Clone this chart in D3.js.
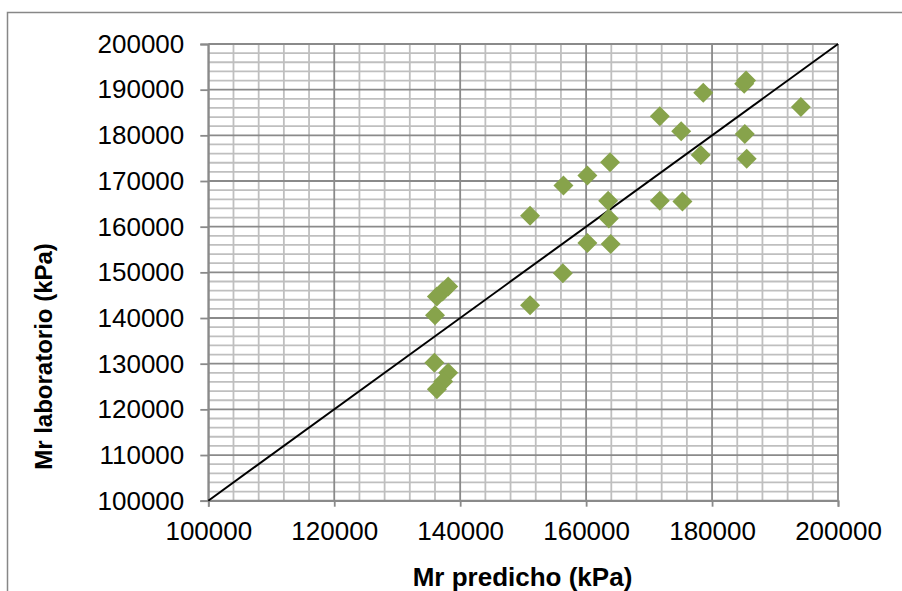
<!DOCTYPE html>
<html>
<head>
<meta charset="utf-8">
<script src="https://cdn.jsdelivr.net/npm/d3@7"></script>
<style>
  html, body { margin: 0; padding: 0; background: #fff; }
  svg { display: block; font-family: "Liberation Sans", Arial, sans-serif; }
</style>
</head>
<body>
<svg id="chart" width="902" height="591"></svg>
<script>
// Predicted vs. laboratory resilient modulus (kPa)
const mrPredicho = [
  194100, 185100, 185400, 178600, 171700, 175100, 185200, 178200, 185500,
  163800, 160200, 156400, 171700, 175300, 163500, 163600, 151100, 160200,
  163900, 156300, 151100, 136000, 138100, 137200, 136300, 135900, 138100,
  137300, 136300
];
const mrLaboratorio = [
  186200, 191300, 192000, 189300, 184200, 180900, 180300, 175700, 174900,
  174100, 171200, 169000, 165700, 165500, 165700, 161800, 162400, 156400,
  156200, 149800, 142800, 140600, 146900, 145800, 144700, 130200, 128000,
  126100, 124400
];
// Line of equality
const igualdadX = [100000, 200000];
const igualdadY = [100000, 200000];

const xTicks = [100000, 120000, 140000, 160000, 180000, 200000];
const yTicks = [100000, 110000, 120000, 130000, 140000, 150000, 160000, 170000, 180000, 190000, 200000];

const svg = d3.select("#chart");
const plotLeft = 208.3, plotRight = 838, plotTop = 44, plotBottom = 500.7;

const x = d3.scaleLinear().domain([100000, 200000]).range([plotLeft, plotRight]);
const y = d3.scaleLinear().domain([100000, 200000]).range([plotBottom, plotTop]);

// Outer chart frame
svg.append("rect")
  .attr("x", 7.5).attr("y", 12.5)
  .attr("width", 1000).attr("height", 1000)
  .attr("fill", "none").attr("stroke", "#878787").attr("stroke-width", 1.5);

const grid = svg.append("g");
// Minor grid lines
const xMinor = d3.range(100000, 200001, 4000).filter(v => v % 20000 !== 0);
const yMinor = d3.range(100000, 200001, 2000).filter(v => v % 10000 !== 0);
grid.selectAll(".xm").data(xMinor).join("line")
  .attr("x1", d => x(d)).attr("x2", d => x(d))
  .attr("y1", plotTop).attr("y2", plotBottom)
  .attr("stroke", "#bfbfbf").attr("stroke-width", 1.8);
grid.selectAll(".ym").data(yMinor).join("line")
  .attr("x1", plotLeft).attr("x2", plotRight)
  .attr("y1", d => y(d)).attr("y2", d => y(d))
  .attr("stroke", "#bfbfbf").attr("stroke-width", 1.8);
// Major grid lines
grid.selectAll(".xM").data(xTicks).join("line")
  .attr("x1", d => x(d)).attr("x2", d => x(d))
  .attr("y1", plotTop).attr("y2", plotBottom)
  .attr("stroke", "#8a8a8a").attr("stroke-width", 1.8);
grid.selectAll(".yM").data(yTicks).join("line")
  .attr("x1", plotLeft).attr("x2", plotRight)
  .attr("y1", d => y(d)).attr("y2", d => y(d))
  .attr("stroke", "#8a8a8a").attr("stroke-width", 1.8);

// Axes
const xAxis = svg.append("g")
  .attr("transform", `translate(0,${plotBottom})`)
  .call(d3.axisBottom(x).tickValues(xTicks).tickFormat(d3.format("d")).tickSize(6).tickPadding(15));
const yAxis = svg.append("g")
  .attr("transform", `translate(${plotLeft},0)`)
  .call(d3.axisLeft(y).tickValues(yTicks).tickFormat(d3.format("d")).tickSize(8).tickPadding(16));
[xAxis, yAxis].forEach(a => {
  a.select(".domain").attr("stroke", "#8a8a8a").attr("stroke-width", 1.8);
  a.selectAll(".tick line").attr("stroke", "#8a8a8a").attr("stroke-width", 1.8);
  a.selectAll(".tick text")
    .attr("fill", "#000")
    .style("font-family", "'Liberation Sans', Arial, sans-serif")
    .style("font-size", "26px");
});

// Equality line
svg.append("path")
  .datum(igualdadX.map((v, i) => [v, igualdadY[i]]))
  .attr("d", d3.line().x(d => x(d[0])).y(d => y(d[1])))
  .attr("fill", "none").attr("stroke", "#000").attr("stroke-width", 2);

// Diamond markers
const diamond = d3.symbol().type(d3.symbolSquare).size(200);
svg.append("g").selectAll("path")
  .data(mrPredicho.map((v, i) => [v, mrLaboratorio[i]]))
  .join("path")
  .attr("d", diamond)
  .attr("transform", d => `translate(${x(d[0])},${y(d[1])}) rotate(45)`)
  .attr("fill", "#87a34b");

// Axis titles
svg.append("text")
  .attr("x", 522.5).attr("y", 586)
  .attr("text-anchor", "middle")
  .style("font-size", "26px").style("font-weight", "bold")
  .text("Mr predicho (kPa)");
svg.append("text")
  .attr("transform", "translate(52,356.5) rotate(-90)")
  .attr("text-anchor", "middle")
  .style("font-size", "24px").style("font-weight", "bold")
  .text("Mr laboratorio (kPa)");
</script>
</body>
</html>
